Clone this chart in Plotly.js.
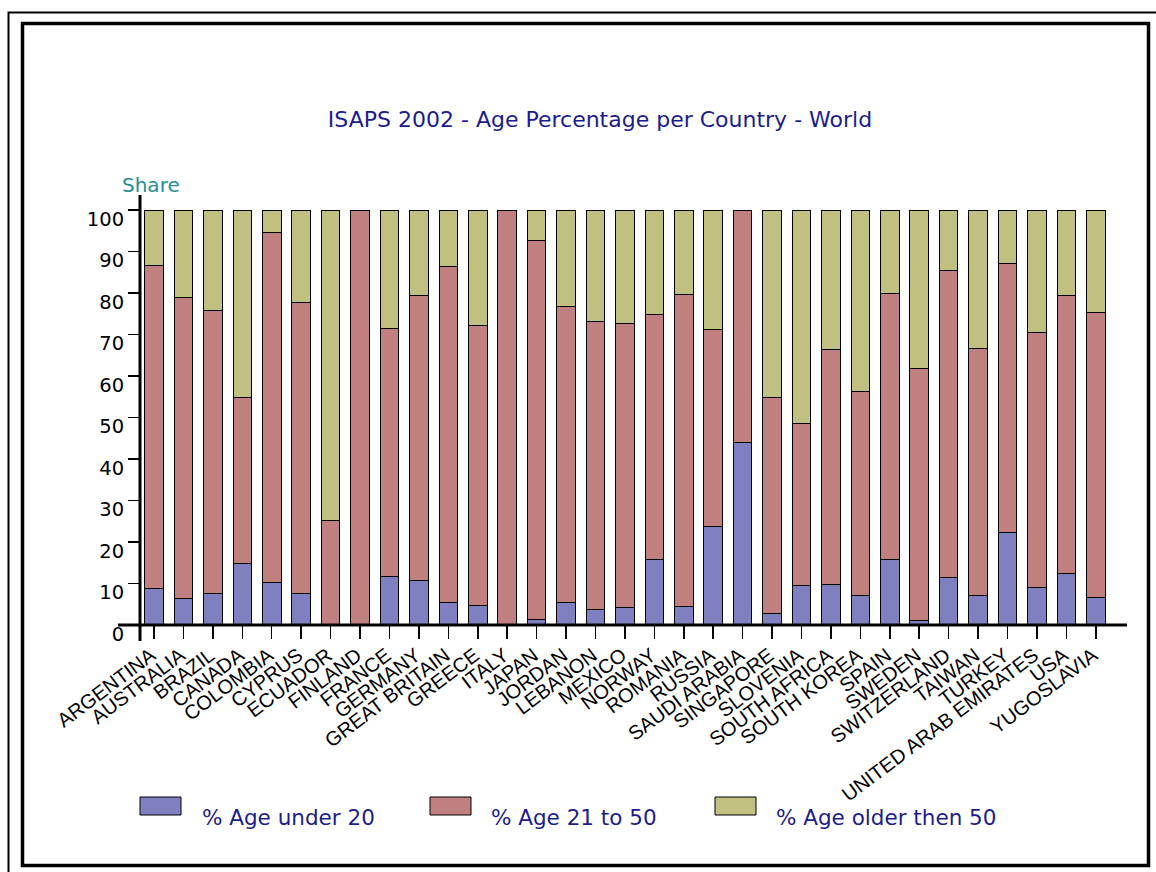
<!DOCTYPE html>
<html>
<head>
<meta charset="utf-8">
<script src="https://cdn.plot.ly/plotly-3.0.1.min.js"></script>
<style>
html,body{margin:0;padding:0;background:#fff;}
#chart{width:1156px;height:872px;}
</style>
</head>
<body>
<div id="chart"></div>
<script>
const countries = ["ARGENTINA","AUSTRALIA","BRAZIL","CANADA","COLOMBIA","CYPRUS","ECUADOR","FINLAND","FRANCE","GERMANY","GREAT BRITAIN","GREECE","ITALY","JAPAN","JORDAN","LEBANON","MEXICO","NORWAY","ROMANIA","RUSSIA","SAUDI ARABIA","SINGAPORE","SLOVENIA","SOUTH AFRICA","SOUTH KOREA","SPAIN","SWEDEN","SWITZERLAND","TAIWAN","TURKEY","UNITED ARAB EMIRATES","USA","YUGOSLAVIA"];
const ageUnder20 = [8.8,6.3,7.5,14.9,10.3,7.5,0,0,11.8,10.8,5.5,4.8,0,1.4,5.5,3.8,4.1,15.8,4.4,23.7,43.9,2.7,9.6,9.8,7.1,15.7,1.0,11.5,7.2,22.3,9.0,12.4,6.7];
const age21to50 = [77.8,72.7,68.2,40.0,84.3,70.3,25.1,100,59.7,68.5,80.8,67.3,100,91.3,71.2,69.4,68.5,59.1,75.3,47.5,56.1,52.2,39.0,56.5,49.2,64.2,60.9,74.0,59.5,64.7,61.4,67.1,68.7];
const ageOlder50 = [13.4,21.0,24.3,45.1,5.4,22.2,74.9,0,28.5,20.7,13.7,27.9,0,7.3,23.3,26.8,27.4,25.1,20.3,28.8,0,45.1,51.4,33.7,43.7,20.1,38.1,14.5,33.3,13.0,29.6,20.5,24.6];
const seriesNames = ["% Age under 20","% Age 21 to 50","% Age older then 50"];
const seriesColors = ["#8080c0","#c08080","#c0c080"];
const yTicks = [0,10,20,30,40,50,60,70,80,90,100];
const chartTitle = "ISAPS 2002 - Age Percentage per Country - World";
const yTitle = "Share";

// pixel helpers (plot area: x 140..1127, y 195..625)
const L = 140, R = 1127, T = 195, B = 625;
const px = v => (v - L) / (R - L);
const py = v => (B - v) / (B - T);

const seriesData = [ageUnder20, age21to50, ageOlder50];
const traces = seriesData.map((vals, i) => ({
  type: 'bar',
  name: seriesNames[i],
  x: countries,
  y: vals,
  marker: {color: seriesColors[i], line: {color: '#000', width: 1}},
  showlegend: false,
  hoverinfo: 'x+y+name'
}));

const shapes = [];
const annotations = [];
// outer thin frame and inner thick frame
shapes.push({type:'rect', xref:'paper', yref:'paper', x0:px(8.5), x1:px(1170), y0:py(12.5), y1:py(890), line:{color:'#000', width:2}, fillcolor:'rgba(0,0,0,0)', layer:'above'});
shapes.push({type:'rect', xref:'paper', yref:'paper', x0:px(22.5), x1:px(1148.5), y0:py(23.5), y1:py(865.5), line:{color:'#000', width:3.5}, fillcolor:'rgba(0,0,0,0)', layer:'above'});
// axis lines
shapes.push({type:'line', xref:'paper', yref:'paper', x0:px(118), x1:1, y0:0, y1:0, line:{color:'#000', width:3}, layer:'above'});
shapes.push({type:'line', xref:'paper', yref:'paper', x0:0, x1:0, y0:py(641), y1:1, line:{color:'#000', width:3}, layer:'above'});

// custom legend
const swX = [140, 430, 715];
const txX = [200, 489, 774];
seriesNames.forEach((n, i) => {
  shapes.push({type:'rect', xref:'paper', yref:'paper', x0:px(swX[i]), x1:px(swX[i]+41), y0:py(815), y1:py(797), fillcolor:seriesColors[i], line:{color:'#000', width:1}});
  annotations.push({xref:'paper', yref:'paper', x:px(txX[i]), y:py(817), xanchor:'left', yanchor:'middle', text:n, showarrow:false, font:{family:'DejaVu Sans', size:21.5, color:'#1c1c8c'}});
});
// y axis title
annotations.push({xref:'paper', yref:'paper', x:px(120), y:py(185), xanchor:'left', yanchor:'middle', text:yTitle, showarrow:false, font:{family:'DejaVu Sans', size:20, color:'#1f8f8f'}});

const layout = {
  width:1156, height:872,
  margin:{l:L, r:1156-R, t:T, b:872-B, pad:0},
  paper_bgcolor:'#fff', plot_bgcolor:'#fff',
  barmode:'stack',
  bargap:0.37,
  title:{text:chartTitle, x:600/1156, xanchor:'center', xref:'container', y:1-119/872, yanchor:'middle', yref:'container', font:{family:'DejaVu Sans', size:22, color:'#1c1c8c'}},
  xaxis:{
    type:'category',
    range:[-0.476, 33.06],
    showline:false, showgrid:false, zeroline:false,
    ticks:'outside', ticklen:13, tickwidth:1.5, tickcolor:'#000',
    tickangle:-37,
    ticklabelstandoff:-3,
    ticklabelshift:-3,
    tickfont:{family:'Liberation Sans', size:20, color:'#000'},
    automargin:false
  },
  yaxis:{
    range:[0, (B-T)/4.15],
    tickvals:yTicks, ticktext:yTicks.map(String),
    showline:false, showgrid:false, zeroline:false,
    ticks:'outside', ticklen:11, tickwidth:1.5, tickcolor:'#000',
    ticklabelshift:9,
    tickfont:{family:'DejaVu Sans', size:19.5, color:'#000'},
    automargin:false
  },
  shapes:shapes,
  annotations:annotations,
  showlegend:false
};

Plotly.newPlot('chart', traces, layout, {displayModeBar:false, staticPlot:true});
</script>
</body>
</html>
